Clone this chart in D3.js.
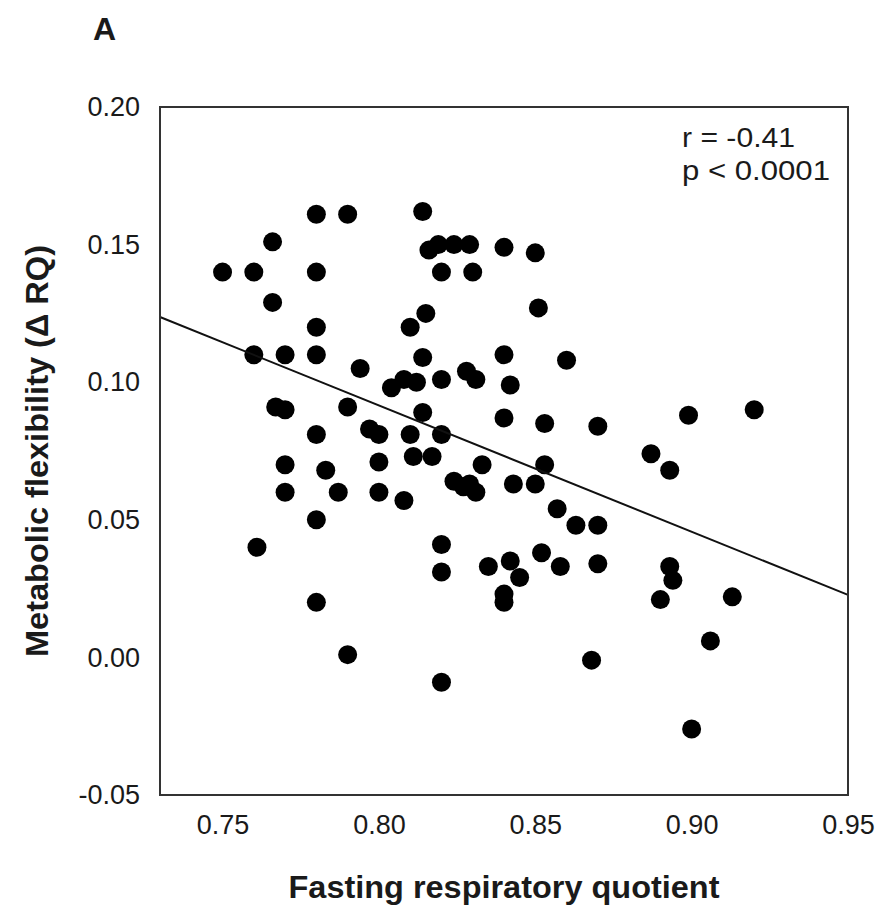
<!DOCTYPE html>
<html>
<head>
<meta charset="utf-8">
<script src="https://cdn.jsdelivr.net/npm/d3@7"></script>
<style>
  html, body { margin: 0; padding: 0; background: #fff; }
  svg { display: block; }
  text { font-family: "Liberation Sans", Arial, sans-serif; fill: #1a1a1a; }
</style>
</head>
<body>
<svg id="chart" width="881" height="910"></svg>
<script>
// ---- data ----
const rqX = [
  0.750, 0.760, 0.760, 0.761, 0.766, 0.766, 0.767, 0.770, 0.770, 0.770,
  0.770, 0.780, 0.780, 0.780, 0.780, 0.780, 0.780, 0.780, 0.783, 0.787,
  0.790, 0.790, 0.790, 0.794, 0.797, 0.800, 0.800, 0.800, 0.804, 0.808,
  0.812, 0.808, 0.810, 0.810, 0.811, 0.814, 0.814, 0.814, 0.815, 0.816,
  0.819, 0.824, 0.829, 0.817, 0.820, 0.820, 0.820, 0.820, 0.820, 0.820,
  0.824, 0.827, 0.829, 0.831, 0.828, 0.831, 0.830, 0.833, 0.835, 0.840,
  0.840, 0.840, 0.840, 0.840, 0.842, 0.842, 0.843, 0.845, 0.850, 0.850,
  0.851, 0.853, 0.853, 0.852, 0.857, 0.858, 0.860, 0.863, 0.868, 0.870,
  0.870, 0.870, 0.887, 0.893, 0.890, 0.893, 0.894, 0.899, 0.900, 0.906,
  0.913, 0.920
];
const flexY = [
  0.140, 0.140, 0.110, 0.040, 0.151, 0.129, 0.091, 0.090, 0.110, 0.070,
  0.060, 0.161, 0.140, 0.120, 0.110, 0.081, 0.050, 0.020, 0.068, 0.060,
  0.161, 0.091, 0.001, 0.105, 0.083, 0.081, 0.071, 0.060, 0.098, 0.101,
  0.100, 0.057, 0.120, 0.081, 0.073, 0.162, 0.109, 0.089, 0.125, 0.148,
  0.150, 0.150, 0.150, 0.073, 0.140, 0.101, 0.081, 0.041, 0.031, -0.009,
  0.064, 0.062, 0.063, 0.060, 0.104, 0.101, 0.140, 0.070, 0.033, 0.149,
  0.110, 0.087, 0.023, 0.020, 0.099, 0.035, 0.063, 0.029, 0.147, 0.063,
  0.127, 0.085, 0.070, 0.038, 0.054, 0.033, 0.108, 0.048, -0.001, 0.084,
  0.048, 0.034, 0.074, 0.068, 0.021, 0.033, 0.028, 0.088, -0.026, 0.006,
  0.022, 0.090
];
const xTicks = [0.75, 0.80, 0.85, 0.90, 0.95];
const yTicks = [-0.05, 0.00, 0.05, 0.10, 0.15, 0.20];
const fitX = [0.73, 0.95];
const fitY = [0.1237, 0.0227];
const statLines = ["r = -0.41", "p < 0.0001"];
const panelLabel = "A";
const xTitle = "Fasting respiratory quotient";
const yTitle = "Metabolic flexibility (\u0394 RQ)";

// ---- layout ----
const plotL = 160, plotR = 848, plotT = 107, plotB = 795;
const svg = d3.select("#chart");

const x = d3.scaleLinear().domain([0.73, 0.95]).range([plotL, plotR]);
const y = d3.scaleLinear().domain([-0.05, 0.20]).range([plotB, plotT]);
const fmt = d => d3.format(".2f")(d).replace("\u2212", "-");

// axes (no tick marks)
const xAxis = svg.append("g")
  .attr("transform", `translate(0,${plotB})`)
  .call(d3.axisBottom(x).tickValues(xTicks).tickFormat(fmt).tickSize(0).tickPadding(20));
xAxis.select(".domain").remove();
xAxis.selectAll("text").style("font-size", "27px").attr("fill", "#1a1a1a");

const yAxis = svg.append("g")
  .attr("transform", `translate(${plotL},0)`)
  .call(d3.axisLeft(y).tickValues(yTicks).tickFormat(fmt).tickSize(0).tickPadding(20));
yAxis.select(".domain").remove();
yAxis.selectAll("text").style("font-size", "27px").attr("fill", "#1a1a1a");

// points
const pts = rqX.map((v, i) => ({ x: v, y: flexY[i] }));
svg.append("g").selectAll("circle").data(pts).join("circle")
  .attr("cx", d => x(d.x))
  .attr("cy", d => y(d.y))
  .attr("r", 9.5)
  .attr("fill", "#000");

// regression line
svg.append("path")
  .datum(fitX.map((v, i) => [v, fitY[i]]))
  .attr("d", d3.line().x(d => x(d[0])).y(d => y(d[1])))
  .attr("fill", "none")
  .attr("stroke", "#111")
  .attr("stroke-width", 2);

// plot frame
svg.append("rect")
  .attr("x", plotL).attr("y", plotT)
  .attr("width", plotR - plotL).attr("height", plotB - plotT)
  .attr("fill", "none").attr("stroke", "#333").attr("stroke-width", 2);

// stats annotation
svg.append("text").attr("x", 682).attr("y", 147)
  .style("font-size", "27px").attr("textLength", 113).attr("lengthAdjust", "spacingAndGlyphs")
  .text(statLines[0]);
svg.append("text").attr("x", 682).attr("y", 180)
  .style("font-size", "27px").attr("textLength", 148).attr("lengthAdjust", "spacingAndGlyphs")
  .text(statLines[1]);

// panel label
svg.append("text").attr("x", 93).attr("y", 40)
  .style("font-size", "32px").style("font-weight", "bold")
  .text(panelLabel);

// axis titles
svg.append("text")
  .attr("x", (plotL + plotR) / 2).attr("y", 898)
  .attr("text-anchor", "middle")
  .style("font-size", "31px").style("font-weight", "bold")
  .attr("textLength", 431).attr("lengthAdjust", "spacingAndGlyphs")
  .text(xTitle);

svg.append("text")
  .attr("transform", `translate(48,${(plotT + plotB) / 2}) rotate(-90)`)
  .attr("text-anchor", "middle")
  .style("font-size", "31px").style("font-weight", "bold")
  .attr("textLength", 412).attr("lengthAdjust", "spacingAndGlyphs")
  .text(yTitle);
</script>
</body>
</html>
